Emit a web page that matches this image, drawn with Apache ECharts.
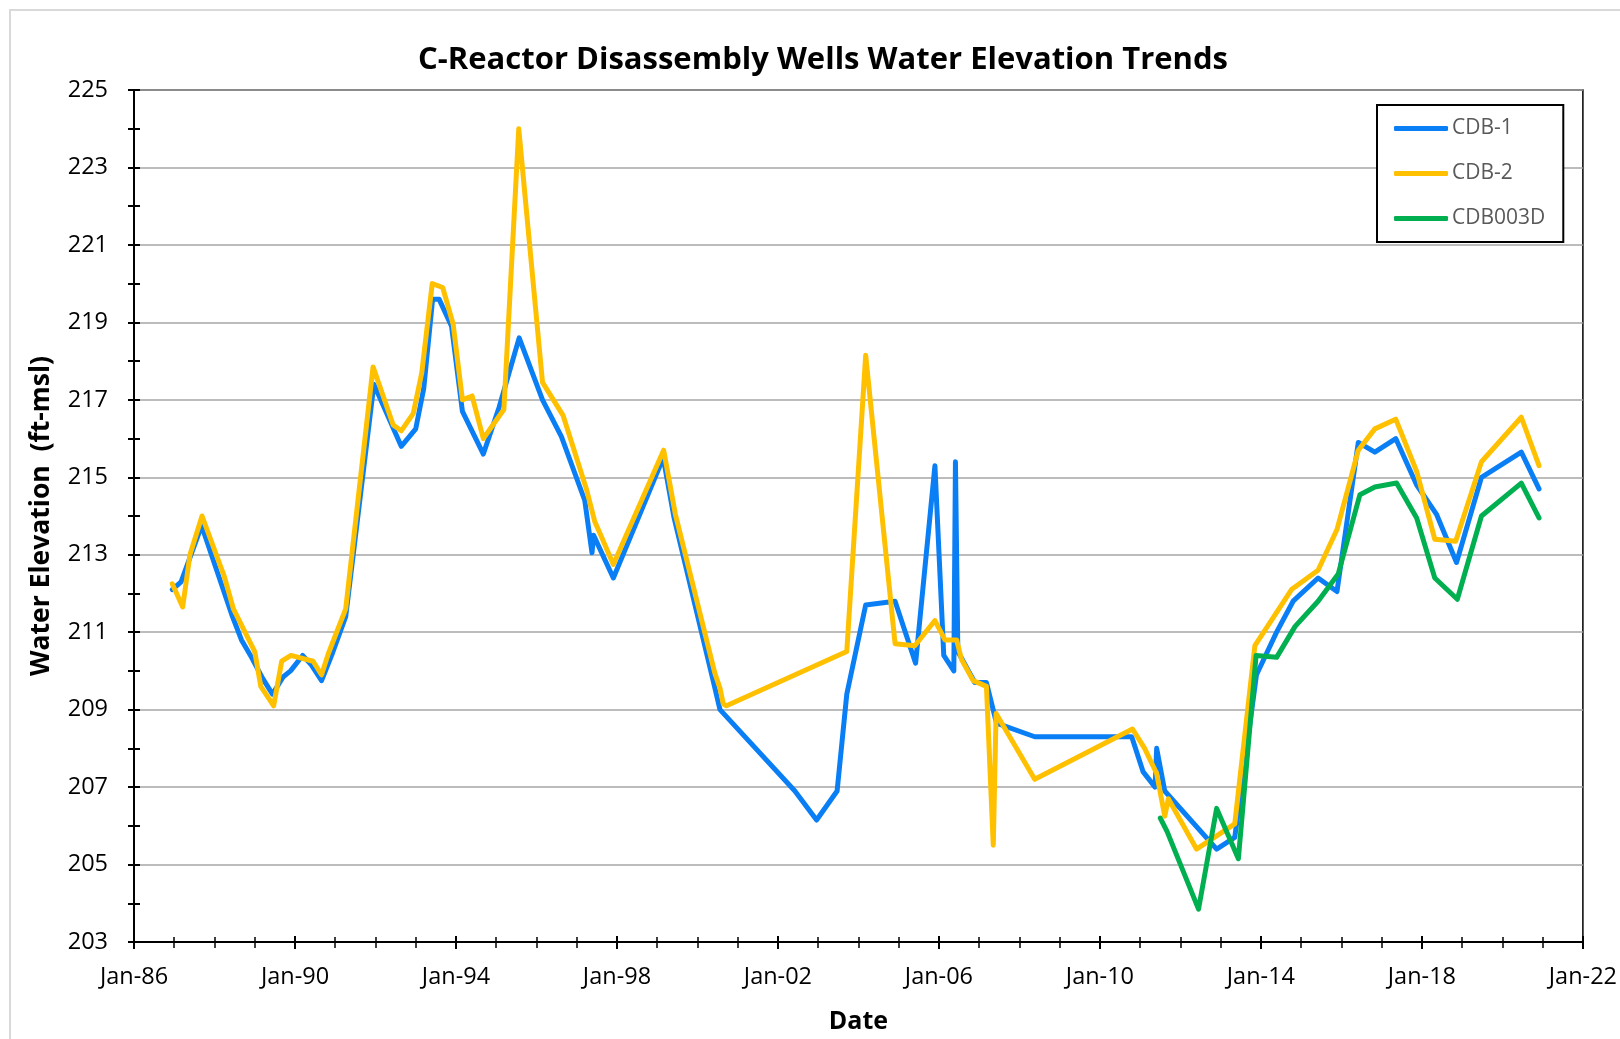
<!DOCTYPE html>
<html>
<head>
<meta charset="utf-8">
<title>C-Reactor Disassembly Wells Water Elevation Trends</title>
<script src="https://cdn.jsdelivr.net/npm/echarts@6/dist/echarts.min.js"></script>
<style>
    html, body { margin: 0; padding: 0; background: #fff; }
    #chart { width: 1620px; height: 1039px; }
</style>
</head>
<body>
<div id="chart"></div>
<script>
// dates are decimal years, values are ft-msl
var cdb1 = [
    [1986.95, 212.1], [1987.17, 212.3], [1987.68, 213.75], [1988.43, 211.45], [1988.67, 210.8],
    [1988.92, 210.35], [1989.2, 209.8], [1989.44, 209.4], [1989.71, 209.85], [1989.89, 210.0],
    [1990.19, 210.4], [1990.41, 210.15], [1990.66, 209.75], [1990.91, 210.4], [1991.26, 211.4],
    [1991.96, 217.4], [1992.64, 215.8], [1993.0, 216.25], [1993.2, 217.3], [1993.42, 219.6],
    [1993.58, 219.6], [1993.89, 218.9], [1994.16, 216.7], [1994.68, 215.6], [1995.07, 216.8],
    [1995.57, 218.6], [1996.15, 217.0], [1996.62, 216.05], [1997.2, 214.4], [1997.38, 213.05],
    [1997.42, 213.5], [1997.91, 212.4], [1999.15, 215.5], [1999.42, 213.95], [2000.39, 209.75],
    [2000.56, 209.0], [2002.42, 206.9], [2002.96, 206.15], [2003.47, 206.9], [2003.71, 209.4],
    [2004.18, 211.7], [2004.91, 211.8], [2005.42, 210.2], [2005.9, 215.3], [2006.12, 210.4],
    [2006.37, 210.0], [2006.41, 215.4], [2006.47, 210.5], [2006.89, 209.7], [2007.18, 209.7],
    [2007.43, 208.65], [2008.38, 208.3], [2010.79, 208.3], [2011.07, 207.4], [2011.37, 207.0],
    [2011.41, 208.0], [2011.61, 206.9], [2012.9, 205.4], [2013.35, 205.7], [2013.89, 209.9],
    [2014.39, 211.0], [2014.8, 211.8], [2015.42, 212.4], [2015.89, 212.05], [2016.42, 215.9],
    [2016.83, 215.65], [2017.35, 216.0], [2017.87, 214.8], [2018.36, 214.05], [2018.86, 212.8],
    [2019.48, 215.0], [2020.47, 215.65], [2020.91, 214.7]
];

var cdb2 = [
    [1986.95, 212.25], [1987.21, 211.65], [1987.39, 213.0], [1987.69, 214.0], [1988.24, 212.45],
    [1988.47, 211.6], [1989.0, 210.5], [1989.15, 209.6], [1989.47, 209.1], [1989.67, 210.25],
    [1989.9, 210.4], [1990.45, 210.25], [1990.66, 209.9], [1990.83, 210.45], [1991.26, 211.6],
    [1991.94, 217.85], [1992.44, 216.35], [1992.64, 216.2], [1992.94, 216.65], [1993.15, 217.7],
    [1993.41, 220.0], [1993.67, 219.9], [1993.93, 218.95], [1994.16, 217.0], [1994.4, 217.1],
    [1994.68, 216.0], [1995.19, 216.75], [1995.56, 224.0], [1996.15, 217.45], [1996.66, 216.6],
    [1997.24, 214.7], [1997.45, 213.85], [1997.58, 213.55], [1997.91, 212.75], [1999.16, 215.7],
    [1999.45, 214.05], [2000.43, 209.95], [2000.56, 209.55], [2000.64, 209.15], [2000.72, 209.1],
    [2003.71, 210.5], [2004.18, 218.15], [2004.91, 210.7], [2005.4, 210.65], [2005.9, 211.3],
    [2006.15, 210.8], [2006.44, 210.8], [2006.56, 210.3], [2006.85, 209.75], [2007.18, 209.6],
    [2007.35, 205.5], [2007.42, 208.9], [2008.38, 207.2], [2010.81, 208.5], [2011.11, 208.0],
    [2011.41, 207.35], [2011.61, 206.25], [2011.7, 206.7], [2012.4, 205.4], [2013.35, 206.05],
    [2013.85, 210.65], [2014.76, 212.1], [2015.42, 212.6], [2015.89, 213.65], [2016.42, 215.7],
    [2016.83, 216.25], [2017.35, 216.5], [2017.87, 215.15], [2018.32, 213.4], [2018.84, 213.35],
    [2019.48, 215.4], [2020.47, 216.55], [2020.91, 215.3]
];

var cdb003d = [
    [2011.5, 206.2], [2011.67, 205.85], [2012.45, 203.85], [2012.9, 206.45], [2013.44, 205.15],
    [2013.88, 210.4], [2014.39, 210.35], [2014.85, 211.15], [2015.42, 211.8], [2015.92, 212.5],
    [2016.46, 214.55], [2016.83, 214.75], [2017.37, 214.85], [2017.87, 213.95], [2018.32, 212.4],
    [2018.88, 211.85], [2019.48, 214.0], [2020.47, 214.85], [2020.91, 213.95]
];

var seriesNames = ['CDB-1', 'CDB-2', 'CDB003D'];
var seriesColors = ['#0a7ff5', '#ffc000', '#00b050'];
var seriesData = [cdb1, cdb2, cdb003d];

var xMin = 1986, xMax = 2022, xStep = 4;
var yMin = 203, yMax = 225, yStep = 2;

var font = '"Open Sans", sans-serif';

function janLabel(v) {
    return 'Jan-' + String(Math.round(v)).slice(2);
}

var myChart = echarts.init(document.getElementById('chart'));

var series = [];
var legendData = [];
for (var i = 0; i < seriesData.length; i++) {
    series.push({
        name: seriesNames[i],
        type: 'line',
        data: seriesData[i],
        symbol: 'none',
        showSymbol: false,
        xAxisIndex: 0,
        yAxisIndex: 0,
        color: seriesColors[i],
        lineStyle: { width: 5, color: seriesColors[i], cap: 'round', join: 'round' },
        emphasis: { disabled: true },
        animation: false
    });
    legendData.push({ name: seriesNames[i], icon: 'roundRect' });
}

var option = {
    backgroundColor: '#fff',
    animation: false,
    title: {
        text: 'C-Reactor Disassembly Wells Water Elevation Trends',
        left: 818,
        top: 40,
        textAlign: 'center',
        textStyle: { fontFamily: font, fontWeight: 'bold', fontSize: 31, color: '#000' }
    },
    graphic: [{
        type: 'rect',
        shape: { x: 10, y: 10, width: 1700, height: 1100 },
        style: { fill: 'none', stroke: '#d9d9d9', lineWidth: 2 },
        silent: true
    }],
    legend: {
        orient: 'vertical',
        left: 1377,
        top: 105,
        data: legendData,
        itemWidth: 54,
        itemHeight: 5,
        itemGap: 24,
        padding: [13, 18, 13, 17],
        borderColor: '#000',
        borderWidth: 2,
        backgroundColor: '#fff',
        textStyle: { fontFamily: font, fontSize: 21, color: '#595959', padding: [0, 0, 0, -1] }
    },
    grid: {
        left: 134,
        right: 36,
        top: 90,
        bottom: 95,
        show: true,
        borderColor: '#000',
        borderWidth: 1.5,
        backgroundColor: 'transparent'
    },
    xAxis: [{
        type: 'value',
        min: xMin,
        max: xMax,
        interval: xStep,
        position: 'bottom',
        name: 'Date',
        nameLocation: 'middle',
        nameGap: 67,
        nameTextStyle: { fontFamily: font, fontWeight: 'bold', fontSize: 25, color: '#000' },
        axisLine: { show: true, onZero: false, lineStyle: { color: '#000', width: 2 } },
        axisTick: { show: true, length: 7, lineStyle: { color: '#000', width: 2 } },
        minorTick: { show: true, splitNumber: 4, length: 6, lineStyle: { color: '#000', width: 1.5 } },
        splitLine: { show: false },
        axisLabel: {
            margin: 23, fontFamily: font, fontSize: 23.5, color: '#000',
            showMinLabel: true, showMaxLabel: true, formatter: janLabel
        }
    }, {
        type: 'value',
        min: xMin,
        max: xMax,
        interval: xStep,
        position: 'bottom',
        axisLine: { show: false },
        axisTick: { show: true, inside: true, length: 6, lineStyle: { color: '#000', width: 2 } },
        minorTick: { show: true, splitNumber: 4, length: 5, lineStyle: { color: '#000', width: 1.5 } },
        splitLine: { show: false },
        axisLabel: { show: false }
    }],
    yAxis: [{
        type: 'value',
        min: yMin,
        max: yMax,
        interval: yStep,
        position: 'left',
        name: 'Water Elevation  (ft-msl)',
        nameLocation: 'middle',
        nameGap: 79,
        nameTextStyle: { fontFamily: font, fontWeight: 'bold', fontSize: 26.5, color: '#000' },
        axisLine: { show: true, onZero: false, lineStyle: { color: '#000', width: 2 } },
        axisTick: { show: true, length: 6, lineStyle: { color: '#000', width: 2 } },
        minorTick: { show: true, splitNumber: 2, length: 6, lineStyle: { color: '#000', width: 2 } },
        splitLine: { show: true, lineStyle: { color: '#a6a6a6', width: 1.5 } },
        axisLabel: { margin: 26, fontFamily: font, fontSize: 23.5, color: '#000' }
    }, {
        type: 'value',
        min: yMin,
        max: yMax,
        interval: yStep,
        position: 'left',
        axisLine: { show: false },
        axisTick: { show: true, inside: true, length: 6, lineStyle: { color: '#000', width: 2 } },
        minorTick: { show: true, splitNumber: 2, length: 6, lineStyle: { color: '#000', width: 2 } },
        splitLine: { show: false },
        axisLabel: { show: false }
    }],
    series: series
};

myChart.setOption(option);
</script>
</body>
</html>
